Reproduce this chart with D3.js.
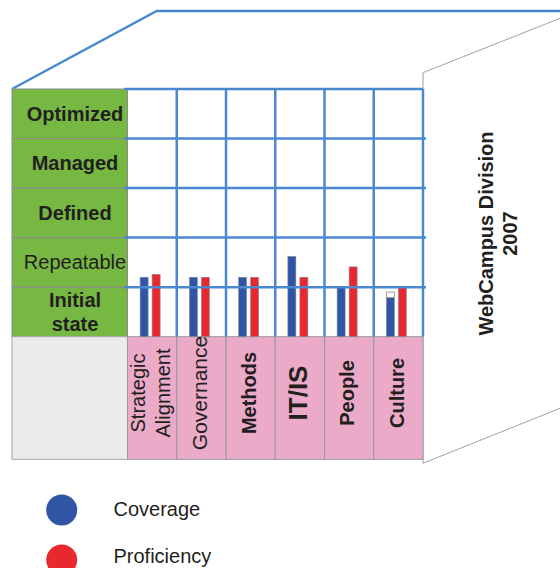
<!DOCTYPE html>
<html>
<head>
<meta charset="utf-8">
<script src="https://cdn.jsdelivr.net/npm/d3@7"></script>
<style>
  html, body { margin: 0; padding: 0; background: #ffffff; }
  svg { display: block; font-family: "Liberation Sans", Arial, sans-serif; }
</style>
</head>
<body>
<script>
// ---------------- data ----------------
const categories = ["Strategic Alignment", "Governance", "Methods", "IT/IS", "People", "Culture"];
const coverage = [1.2, 1.2, 1.2, 1.62, 1.0, 0.79];
const proficiency = [1.26, 1.2, 1.2, 1.2, 1.41, 1.0];
const coverageGap = [0, 0, 0, 0, 0, 0.11];
const levels = ["Initial state", "Repeatable", "Defined", "Managed", "Optimized"];
const seriesNames = ["Coverage", "Proficiency"];
const titleLines = ["WebCampus Division", "2007"];

// ---------------- styles ----------------
const colors = { Coverage: "#2f55a4", Proficiency: "#e8282e" };
const gridBlue = "#4a89d0";
const green = "#77b843";
const pink = "#eaaac8";
const textColor = "#231f20";
const catStyle = {
  "Strategic Alignment": { weight: "normal", size: 20, lines: ["Strategic", "Alignment"] },
  "Governance": { weight: "normal", size: 21, lines: ["Governance"] },
  "Methods": { weight: "bold", size: 20, lines: ["Methods"] },
  "IT/IS": { weight: "bold", size: 26, lines: ["IT/IS"] },
  "People": { weight: "bold", size: 20, lines: ["People"] },
  "Culture": { weight: "bold", size: 20, lines: ["Culture"] }
};
const levelStyle = {
  "Initial state": { weight: "bold", lines: ["Initial", "state"] },
  "Repeatable": { weight: "normal", lines: ["Repeatable"] },
  "Defined": { weight: "bold", lines: ["Defined"] },
  "Managed": { weight: "bold", lines: ["Managed"] },
  "Optimized": { weight: "bold", lines: ["Optimized"] }
};

const W = 560, H = 568;
const svg = d3.select("body").append("svg").attr("width", W).attr("height", H);

const x = d3.scaleBand().domain(categories).range([127.5, 423]);
const y = d3.scaleLinear().domain([0, levels.length]).range([336.7, 89]);
const xs = d3.scaleBand().domain(seriesNames).range([-12, 8]).paddingInner(1 / 3);
const leftX = 12, bottomY = 459.3;

// ---------------- 3D outline ----------------
svg.append("polyline")
  .attr("points", [[leftX, y(levels.length)], [156.7, 11], [W, 11]].map(p => p.join(",")).join(" "))
  .attr("fill", "none").attr("stroke", gridBlue).attr("stroke-width", 2.5);

const rx = x.range()[1];
svg.append("polyline")
  .attr("points", [[rx, 463.3], [rx, 72.7], [W, 18.3]].map(p => p.join(",")).join(" "))
  .attr("fill", "none").attr("stroke", "#a0a0a0").attr("stroke-width", 1);
svg.append("line")
  .attr("x1", rx).attr("y1", 463.3).attr("x2", W).attr("y2", 408.3)
  .attr("stroke", "#a0a0a0").attr("stroke-width", 1);

// ---------------- left level panel ----------------
const lvl = svg.append("g");
levels.forEach((name, i) => {
  const y0 = y(i + 1), y1 = y(i);
  lvl.append("rect")
    .attr("x", leftX).attr("y", y0).attr("width", x.range()[0] - leftX).attr("height", y1 - y0)
    .attr("fill", green).attr("stroke", "#8c8c8c").attr("stroke-width", 1);
  const st = levelStyle[name];
  const cy = (y0 + y1) / 2;
  const n = st.lines.length;
  st.lines.forEach((ln, j) => {
    lvl.append("text")
      .attr("x", 75).attr("y", cy + (j - (n - 1) / 2) * 24.5)
      .attr("dy", "0.35em")
      .attr("text-anchor", "middle")
      .attr("font-size", 20).attr("font-weight", st.weight)
      .attr("fill", textColor)
      .text(ln);
  });
});

// ---------------- bottom category cells ----------------
svg.append("rect")
  .attr("x", leftX).attr("y", y(0)).attr("width", x.range()[0] - leftX).attr("height", bottomY - y(0))
  .attr("fill", "#ebebed").attr("stroke", "#a8a8a8").attr("stroke-width", 1);

const cells = svg.append("g").selectAll("g").data(categories).join("g");
cells.append("rect")
  .attr("x", d => x(d)).attr("y", y(0)).attr("width", x.bandwidth()).attr("height", bottomY - y(0))
  .attr("fill", pink).attr("stroke", "#9a9a9a").attr("stroke-width", 1);
cells.each(function (d) {
  const st = catStyle[d];
  const cx = x(d) + x.bandwidth() / 2 - 1.7;
  const cy = 393;
  const n = st.lines.length;
  st.lines.forEach((ln, j) => {
    const tx = cx + (j - (n - 1) / 2) * 25;
    d3.select(this).append("text")
      .attr("transform", `translate(${tx},${cy}) rotate(-90)`)
      .attr("dy", "0.35em")
      .attr("text-anchor", "middle")
      .attr("font-size", st.size).attr("font-weight", st.weight)
      .attr("fill", textColor)
      .text(ln);
  });
});

// ---------------- bars ----------------
const barData = categories.map((c, i) => ({ c, i, Coverage: coverage[i], Proficiency: proficiency[i] }));
const bars = svg.append("g");
barData.forEach(d => {
  const cx = x(d.c) + x.bandwidth() / 2;
  seriesNames.forEach(s => {
    bars.append("rect")
      .attr("x", cx + xs(s)).attr("width", xs.bandwidth())
      .attr("y", y(d[s])).attr("height", y(0) - y(d[s]))
      .attr("fill", colors[s]).attr("stroke", "#8a8a9a").attr("stroke-width", 0.6);
  });
  if (coverageGap[d.i] > 0) {
    const top = d.Coverage + coverageGap[d.i];
    bars.append("rect")
      .attr("x", cx + xs("Coverage")).attr("width", xs.bandwidth())
      .attr("y", y(top)).attr("height", y(d.Coverage) - y(top))
      .attr("fill", "#ffffff").attr("stroke", "#9a9a9a").attr("stroke-width", 1);
  }
});

// ---------------- blue grid ----------------
const grid = svg.append("g").attr("stroke", gridBlue).attr("stroke-width", 2.5);
d3.range(1, levels.length + 1).forEach(k => {
  grid.append("line")
    .attr("x1", 124).attr("x2", k === levels.length ? rx : rx + 3)
    .attr("y1", y(k)).attr("y2", y(k));
});
const bounds = categories.map(c => x(c)).concat([rx]);
bounds.forEach((bx, i) => {
  if (i === 0) return;
  grid.append("line")
    .attr("x1", bx).attr("x2", bx)
    .attr("y1", y(levels.length)).attr("y2", y(0));
});

// ---------------- right title ----------------
titleLines.forEach((t, j) => {
  svg.append("text")
    .attr("transform", `translate(${486 + j * 24},${233.5}) rotate(-90)`)
    .attr("dy", "0.35em")
    .attr("text-anchor", "middle")
    .attr("font-size", 20).attr("font-weight", "bold")
    .attr("fill", textColor)
    .text(t);
});

// ---------------- legend ----------------
const leg = svg.append("g").selectAll("g").data(seriesNames).join("g");
leg.append("circle").attr("cx", 61.7).attr("cy", (d, i) => 510 + i * 50).attr("r", 15.5)
  .attr("fill", d => colors[d]);
leg.append("text").attr("x", 113.5).attr("y", (d, i) => 509 + i * 47).attr("dy", "0.35em")
  .attr("font-size", 20).attr("fill", textColor).text(d => d);
</script>
</body>
</html>
